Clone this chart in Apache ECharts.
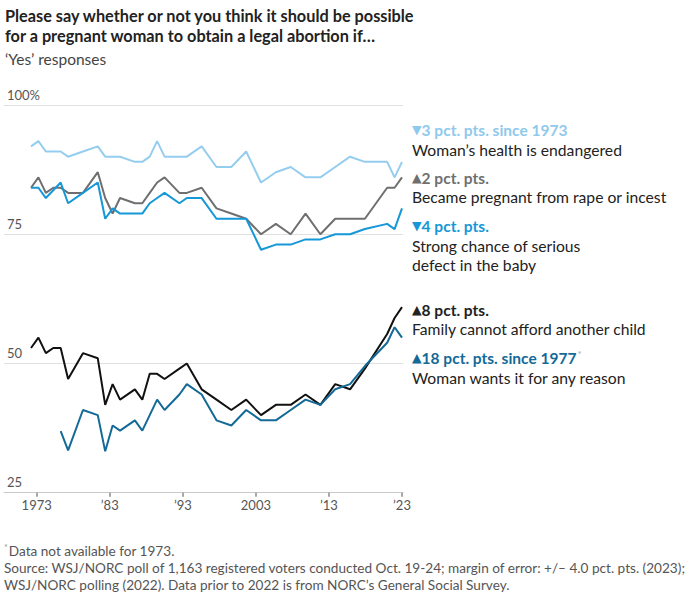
<!DOCTYPE html>
<html><head><meta charset="utf-8">
<script src="https://cdn.jsdelivr.net/npm/echarts@6/dist/echarts.min.js"></script>
<style>html,body{margin:0;padding:0;background:#fff}#c{width:691px;height:602px}</style>
</head><body><div id="c"></div>
<script>
const years = [1973,1974,1975,1976,1977,1978,1980,1982,1983,1984,1985,1987,1988,1989,1990,1991,1993,1994,1996,1998,2000,2002,2004,2006,2008,2010,2012,2014,2016,2018,2021,2022,2023];
const healthEndangered = [92,93,91,91,91,90,91,92,90,90,90,89,89,90,93,90,90,90,92,88,88,91,85,87,88,86,86,88,90,89,89,86,89];
const rapeOrIncest = [84,86,83,84,84,83,83,87,82,79,82,81,81,83,85,86,83,83,84,80,79,78,75,77,75,79,75,78,78,78,84,84,86];
const seriousDefect = [84,84,82,83.5,85,81,83,85,78,80,79,79,79,81,82,83,81,82,82,78,78,78,72,73,73,74,74,75,75,76,77,76,80];
const cannotAfford = [53,55,52,53,53,47,52,51,42,46,43,45,43,48,48,47,49,50,45,43,41,43,40,42,42,44,42,46,45,49,55.7,58.8,60.9];
const anyReason = [null,null,null,null,36.9,33.2,41,40,33,38,37,39,37,40,43,41,44,46,44,39,38,41,39,39,41,43,42,45,46,49.5,54,57,55];
const xTickYears = [1973,1983,1993,2003,2013,2023];
const xTickLabels = ['1973','\u201983','\u201993','2003','\u201913','\u201923'];

const FONT = 'Lato, Roboto, "Noto Sans", sans-serif';
const TRI = '"DejaVu Sans", sans-serif';
const pair = arr => years.map((y, i) => [y, arr[i]]);

const seriesDefs = [
  {name:'Woman\u2019s health is endangered', data: healthEndangered, color:'#95cdef'},
  {name:'Became pregnant from rape or incest', data: rapeOrIncest, color:'#6f6f6f'},
  {name:'Strong chance of serious defect in the baby', data: seriousDefect, color:'#1597d8'},
  {name:'Family cannot afford another child', data: cannotAfford, color:'#111111'},
  {name:'Woman wants it for any reason', data: anyReason, color:'#136a97'}
];

function txt(x, y, text, size, color, weight) {
  return {
    type:'text', x:x, y:y, silent:true,
    style:{text:text, fill:color, font:(weight||'normal')+' '+size+'px '+FONT, textVerticalAlign:'middle', textAlign:'left'}
  };
}
function head(x, y, tri, text, color, star) {
  return {
    type:'text', x:x, y:y, silent:true,
    style:{
      text:'{t|'+tri+'}{h|'+text+'}'+(star ? '{s|*}' : ''), textVerticalAlign:'middle',
      rich:{
        t:{fontFamily:TRI, fontSize:12.5, fill:color, color:color, padding:[0,0,1,0]},
        h:{fontFamily:FONT, fontSize:15.5, fontWeight:'bold', fill:color, color:color},
        s:{fontFamily:FONT, fontSize:10, fill:'#aaa', color:'#aaa', padding:[0,0,8,1]}
      }
    }
  };
}

const AX = 412;
const graphics = [
  txt(5, 15, 'Please say whether or not you think it should be possible', 16.3, '#222', 'bold'),
  txt(5, 35, 'for a pregnant woman to obtain a legal abortion if\u2026', 16.3, '#222', 'bold'),
  txt(5, 59, '\u2018Yes\u2019 responses', 15.5, '#444'),

  head(AX, 130, '\u25BC', '3 pct. pts. since 1973', '#8fc9ec'),
  txt(AX, 150, 'Woman\u2019s health is endangered', 15.7, '#222'),
  head(AX, 178, '\u25B2', '2 pct. pts.', '#6f6f6f'),
  txt(AX, 197, 'Became pregnant from rape or incest', 15.7, '#222'),
  head(AX, 226, '\u25BC', '4 pct. pts.', '#1597d8'),
  txt(AX, 245.5, 'Strong chance of serious', 15.7, '#222'),
  txt(AX, 265, 'defect in the baby', 15.7, '#222'),
  head(AX, 310, '\u25B2', '8 pct. pts.', '#222'),
  txt(AX, 329, 'Family cannot afford another child', 15.7, '#222'),
  head(AX, 358, '\u25B2', '18 pct. pts. since 1977', '#136a97', true),
  txt(AX, 377.5, 'Woman wants it for any reason', 15.7, '#222'),

  {type:'text', x:4, y:551, silent:true, style:{
    text:'{s|*}{t|Data not available for 1973.}', textVerticalAlign:'middle',
    rich:{s:{fontFamily:FONT, fontSize:9, fill:'#999', color:'#999', padding:[0,1,7,0]},
          t:{fontFamily:FONT, fontSize:13.6, fill:'#555', color:'#555'}}
  }},
  txt(4, 568, 'Source: WSJ/NORC poll of 1,163 registered voters conducted Oct. 19-24; margin of error: +/\u2013 4.0 pct. pts. (2023);', 13.6, '#555'),
  txt(4, 585, 'WSJ/NORC polling (2022). Data prior to 2022 is from NORC\u2019s General Social Survey.', 13.6, '#555')
];

const chart = echarts.init(document.getElementById('c'), null, {renderer:'svg'});
chart.setOption({
  animation:false,
  backgroundColor:'#fff',
  grid:{left:4, right:288, top:105, bottom:109.3, containLabel:false},
  xAxis:[
    {type:'value', min:1969.361, max:2023.135, show:false},
    {type:'value', min:1968.524, max:2023.137, position:'bottom',
      axisLine:{show:true, lineStyle:{color:'#c8c8c8', width:1}},
      axisTick:{show:true, length:4, lineStyle:{color:'#8a8a8a', width:1.5}, customValues:xTickYears},
      axisLabel:{customValues:xTickYears, formatter:v => xTickLabels[xTickYears.indexOf(v)], fontFamily:FONT, fontSize:13, color:'#555', margin:6},
      splitLine:{show:false}}
  ],
  yAxis:{type:'value', min:25, max:100, interval:25, position:'left',
    axisLine:{show:false}, axisTick:{show:false},
    splitLine:{lineStyle:{color:'#e0e0e0', width:1}},
    axisLabel:{inside:true, margin:3, verticalAlign:'bottom', padding:[0,0,4,0],
      formatter:v => v === 100 ? '100%' : String(v), fontFamily:FONT, fontSize:13, color:'#555'}},
  series: seriesDefs.map(s => ({
    name:s.name, type:'line', xAxisIndex:0, yAxisIndex:0, data:pair(s.data),
    showSymbol:false, symbol:'none', connectNulls:false, silent:true,
    lineStyle:{color:s.color, width:2}, itemStyle:{color:s.color}
  })),
  graphic: graphics
});
</script></body></html>
